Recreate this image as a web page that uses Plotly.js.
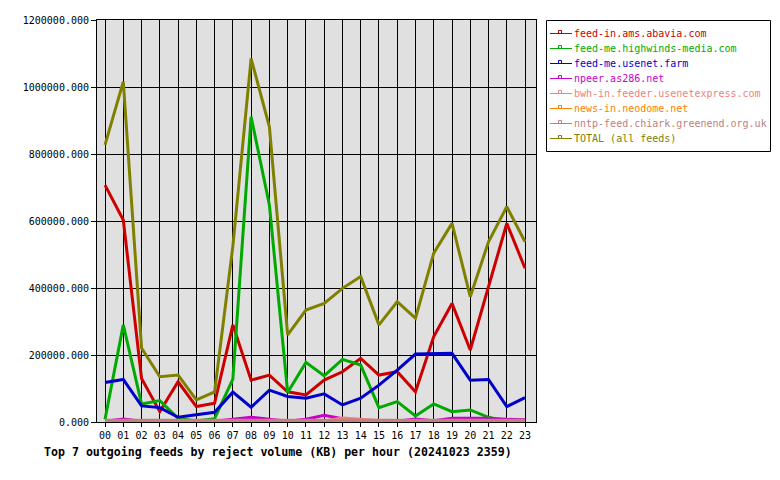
<!DOCTYPE html>
<html>
<head>
<meta charset="utf-8">
<script src="https://cdn.plot.ly/plotly-3.0.1.min.js"></script>
<style>html,body{margin:0;padding:0;background:#fff;}#chart{width:780px;height:480px;}</style>
</head>
<body>
<div id="chart"></div>
<script>
// ---- data (KB rejected per hour) ----
const hours = ['00','01','02','03','04','05','06','07','08','09','10','11','12','13','14','15','16','17','18','19','20','21','22','23'];
const seriesNames = ['feed-in.ams.abavia.com','feed-me.highwinds-media.com','feed-me.usenet.farm','npeer.as286.net','bwh-in.feeder.usenetexpress.com','news-in.neodome.net','nntp-feed.chiark.greenend.org.uk','TOTAL (all feeds)'];
const abavia    = [707000,603000,130000,31000,120000,46000,56000,290000,125000,140000,90000,81000,125000,150000,190000,140000,150000,90000,255000,354000,215000,404000,593000,459000];
const highwinds = [8000,290000,54000,64000,11000,3000,10000,128000,911000,648000,88000,178000,138000,187000,170000,43000,61000,18000,54000,31000,36000,14000,2000,2000];
const usenetfarm= [118000,127000,48000,43000,14000,21000,29000,89000,44000,95000,76000,71000,84000,51000,71000,110000,155000,203000,203000,205000,125000,127000,46000,73000];
const npeer     = [2000,9000,2000,0,0,0,2000,8000,14000,8000,2000,8000,20000,10000,3000,0,2000,9000,4000,11000,11000,11000,8000,7000];
const bwh       = [1000,1000,1000,1000,1000,1000,1000,1000,1000,1000,1000,1000,3000,12000,9000,4000,1000,1000,1000,1000,1000,1000,1000,1000];
const neodome   = [2000,2000,2000,2000,2000,2000,2000,2000,2000,2000,2000,2000,2000,2000,2000,2000,2000,2000,2000,2000,2000,2000,2000,2000];
const chiark    = [5000,5000,5000,5000,5000,5000,5000,5000,5000,5000,5000,5000,5000,5000,5000,5000,5000,5000,5000,5000,5000,5000,5000,5000];
const total     = [827000,1016000,221000,135000,140000,66000,90000,525000,1085000,881000,260000,334000,354000,399000,434000,290000,359000,310000,504000,593000,374000,538000,643000,538000];
const titleText = 'Top 7 outgoing feeds by reject volume (KB) per hour (20241023 2359)';

const colors = ['#cc0000','#00aa00','#0000cc','#cc00cc','#f08080','#ff8000','#c08080','#808000'];
const allSeries = [abavia, highwinds, usenetfarm, npeer, bwh, neodome, chiark, total];

// plot area in pixels
const L = 97, R = 536, T = 20, B = 422;
const px = p => (p - L) / (R - L);
const py = p => (B - p) / (B - T);

const traces = allSeries.map((vals, i) => ({
  type: 'scatter', mode: 'lines', x: hours, y: vals, name: seriesNames[i],
  line: {color: colors[i], width: 3}, showlegend: false, hoverinfo: 'skip'
}));

const shapes = [];
const annotations = [];
// legend box
shapes.push({type:'rect', xref:'paper', yref:'paper', x0:px(546.5), x1:px(770.5), y0:py(20.5), y1:py(151.5), line:{color:'#000', width:1}, fillcolor:'rgba(0,0,0,0)'});
seriesNames.forEach((n, i) => {
  const yy = 33.5 + 15 * i;
  shapes.push({type:'line', xref:'paper', yref:'paper', x0:px(550), x1:px(572), y0:py(yy), y1:py(yy), line:{color:colors[i], width:1}});
  shapes.push({type:'rect', xref:'paper', yref:'paper', x0:px(558.5), x1:px(561.5), y0:py(yy-3), y1:py(yy), line:{color:colors[i], width:1}, fillcolor:'rgba(0,0,0,0)'});
  annotations.push({xref:'paper', yref:'paper', x:px(572), y:py(yy), xanchor:'left', yanchor:'middle', showarrow:false, text:n, font:{family:'DejaVu Sans Mono', size:10, color:colors[i]}});
});
// bottom title
annotations.push({xref:'paper', yref:'paper', x:px(42), y:py(452), xanchor:'left', yanchor:'middle', showarrow:false, text:titleText, font:{family:'DejaVu Sans Mono', size:11.6, color:'#000', weight:'bold'}});

const layout = {
  width: 780, height: 480,
  margin: {l: L, r: 780 - R, t: T, b: 480 - B, pad: 0},
  paper_bgcolor: '#ffffff', plot_bgcolor: '#e0e0e0',
  showlegend: false,
  font: {family: 'DejaVu Sans Mono', size: 10, color: '#000'},
  xaxis: {
    type: 'category', range: [-0.44, 23.6], showgrid: true, gridcolor: '#000', gridwidth: 1,
    showline: true, linecolor: '#000', linewidth: 1, mirror: true,
    ticks: 'outside', ticklen: 4, tickcolor: '#000', tickfont: {family:'DejaVu Sans Mono', size: 10, color:'#000'},
    zeroline: false, fixedrange: true
  },
  yaxis: {
    range: [0, 1200000], dtick: 200000, tick0: 0, tickformat: '.3f',
    showgrid: true, gridcolor: '#000', gridwidth: 1,
    showline: true, linecolor: '#000', linewidth: 1, mirror: true,
    ticks: 'outside', ticklen: 5, tickcolor: '#000', tickfont: {family:'DejaVu Sans Mono', size: 10, color:'#000'},
    zeroline: false, fixedrange: true
  },
  shapes: shapes,
  annotations: annotations
};

Plotly.newPlot('chart', traces, layout, {staticPlot: true, displayModeBar: false});
</script>
</body>
</html>
